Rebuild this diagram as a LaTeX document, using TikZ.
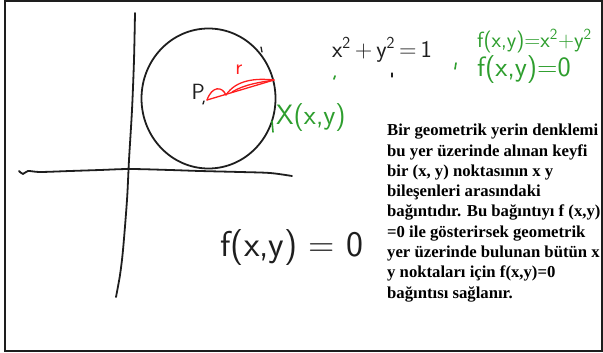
\documentclass[tikz,border=0pt]{standalone}
\usepackage{fontspec}
\setmainfont{Liberation Serif}
\usetikzlibrary{positioning}
\definecolor{inkblack}{HTML}{1E1E1E}
\definecolor{inkgreen}{HTML}{2E9E2E}
\definecolor{inkred}{HTML}{FF1E1E}

\tikzset{
  pen/.style={inkblack, line width=1.8pt, line cap=round, line join=round},
  redpen/.style={inkred, line width=1.3pt, line cap=round, line join=round},
  greenpen/.style={inkgreen, line width=1.6pt, line cap=round},
  hand/.style={inner sep=0pt, font=\sffamily\fontsize{#1}{#1}\selectfont},
}

\begin{document}
\begin{tikzpicture}[x=1pt, y=-1pt]
\useasboundingbox (0,0) rectangle (603,353);

% Frame
\draw[inkblack, line width=2pt] (5,1) rectangle (602,351);

% Axes, drawn by hand
\draw[pen] plot[smooth] coordinates {(19,171) (23,174) (28,171) (40,172) (70,171)
  (100,170) (130,169) (170,170) (200,171) (240,172) (270,173) (292,176)};
\draw[pen] plot[smooth] coordinates {(135,13) (134,60) (132,110) (129,160)
  (127,200) (123,250) (120,275) (116,297)};

% Circle tangent to the x axis
\draw[pen] (208.5,98.5) ellipse (67 and 70);
\draw[pen, line width=1.3pt] (261,47) -- (262,52);

% Centre P and radius r
\coordinate (pc) at (207,100);
\coordinate (xpt) at (274,80);
\node[hand=22, text=inkblack, anchor=south east] (plabel) at (205,100) {P};
\draw[pen, line width=1.3pt] (204,101) -- (203,104);
\draw[redpen] (pc) -- (xpt);
\draw[redpen] (pc) .. controls (212,86) and (222,86) .. (226,95);
\draw[redpen] (226,95) .. controls (236,80) and (255,78) .. (xpt);
\draw[redpen] (232,92) .. controls (245,84) and (262,82) .. (xpt);
\node[hand=22, text=inkred] (rlabel) at (239,70) {r};

% Point on the circle
\draw[greenpen] (272,121) -- (273,132);
\node[hand=28, text=inkgreen, anchor=west] (xylabel) at (276,118) {X(x,y)};

% Equation of the circle
\node[hand=24, text=inkblack] (circeq) at (382,50)
  {x\textsuperscript{2}\,+\,y\textsuperscript{2}\,=\,1};
\draw[greenpen] (335,76) -- (334,79);
\draw[pen, line width=1.3pt] (392,73) -- (392,77);
\draw[greenpen] (456,63) -- (455,69);
\node[hand=22, text=inkgreen, anchor=west] (fdef) at (477,41)
  {f(x,y)=x\textsuperscript{2}+y\textsuperscript{2}};
\node[hand=28, text=inkgreen, anchor=west] (fzero) at (477,70) {f(x,y)=0};

% General relation
\node[hand=36, text=inkblack] (frel) at (292,248) {f(x,y) = 0};

% Explanation
\node[anchor=north west, inner sep=0pt, align=left, text=black,
  font=\bfseries\fontsize{16.7}{20.3}\selectfont] (expl) at (387,124)
  {Bir geometrik yerin denklemi\\
   bu yer üzerinde alınan keyfi\\
   bir (x, y) noktasının x y\\
   bileşenleri arasındaki\\
   bağıntıdır. Bu bağıntıyı f (x,y)\\
   =0 ile gösterirsek geometrik\\
   yer üzerinde bulunan bütün x\\
   y noktaları için f(x,y)=0\\
   bağıntısı sağlanır.};

\end{tikzpicture}
\end{document}
